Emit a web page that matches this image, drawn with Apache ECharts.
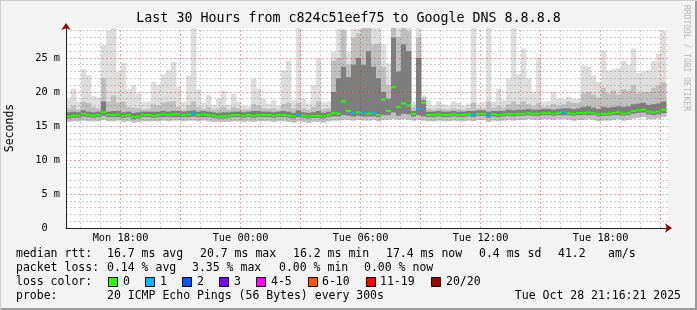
<!DOCTYPE html>
<html><head><meta charset="utf-8">
<script src="https://cdn.jsdelivr.net/npm/echarts@6/dist/echarts.min.js"></script>
<style>html,body{margin:0;padding:0;background:#f3f3f3}#c{width:697px;height:310px}</style>
</head><body><div id="c"></div>
<script>
// ---- time frame (hours since Mon 00:00) ----
const START_H = 15 + 16/60 + 21/3600;   // Mon 15:16:21
const SPAN_H = 30;
const STEP_H = 0.25;                     // one bin = 15 minutes

// ---- smoke data (milliseconds), one value per 15-min bin ----
const hi = [19.0,20.5,18.6,23.4,22.5,19.4,19.2,26.9,29.0,29.4,23.0,24.3,20.4,21.0,19.8,18.5,18.6,21.5,21.0,22.6,
 23.2,24.4,20.8,18.5,22.4,29.4,20.4,18.4,19.5,18.1,19.0,20.2,18.1,19.7,18.6,18.0,17.9,21.9,20.5,19.0,
 18.2,18.8,18.0,23.2,24.6,18.8,29.4,19.0,18.3,21.0,24.9,18.5,18.6,25.9,29.3,29.3,25.9,29.3,29.3,29.4,
 29.4,29.4,29.4,27.0,24.2,29.4,29.4,29.4,29.4,18.5,29.4,19.5,18.8,18.0,18.6,18.2,18.0,18.6,18.4,18.0,
 18.3,29.4,18.3,18.5,29.4,18.6,20.5,18.8,22.0,29.4,22.6,26.4,22.0,20.0,25.0,18.5,18.7,20.0,19.0,19.0,
 19.3,19.0,19.0,23.9,23.7,22.4,21.5,26.1,23.2,23.4,23.5,24.6,24.0,26.4,22.8,23.0,23.2,24.6,25.6,29.0];
const p90 = [17.6,18.0,17.4,18.6,18.4,17.8,17.6,22.0,18.6,19.5,18.4,18.6,17.8,17.7,17.6,17.4,17.5,18.2,18.0,18.4,
 18.6,18.6,17.8,17.4,18.0,18.6,17.8,17.5,17.8,17.4,17.6,17.8,17.4,17.8,17.6,17.4,17.4,18.2,18.0,17.6,
 17.5,17.6,17.4,18.2,18.4,17.6,18.4,17.6,17.4,17.8,18.6,17.5,17.6,24.6,25.0,29.0,24.0,28.0,28.6,29.4,
 29.4,27.0,27.1,23.7,21.0,29.4,28.1,29.4,29.0,17.8,28.0,19.2,17.6,17.4,17.6,17.5,17.4,17.6,17.5,17.4,
 17.6,18.4,17.6,17.6,18.6,17.7,18.0,17.7,18.2,18.6,18.2,18.6,18.2,17.9,18.4,17.8,17.9,18.2,18.0,18.2,
 18.6,18.4,18.4,19.8,20.0,19.6,19.2,20.6,19.8,20.2,19.6,20.4,20.2,21.0,19.8,20.0,20.0,20.6,21.0,21.4];
const q3 = [17.0,17.1,17.0,17.3,17.1,17.0,17.1,18.6,17.1,17.2,17.2,17.0,17.1,16.9,17.0,17.1,17.1,17.1,17.1,17.2,
 17.1,17.2,17.2,17.1,17.2,17.3,17.1,17.2,17.1,17.0,16.9,17.0,17.0,17.1,17.1,17.0,17.1,17.2,17.2,17.1,
 17.1,17.0,17.1,17.2,17.1,16.9,17.3,17.0,16.9,17.0,17.2,16.9,17.1,20.0,22.0,23.7,22.2,24.0,25.0,24.0,
 26.0,23.7,22.0,20.0,19.0,28.0,23.0,27.0,26.0,17.2,25.0,18.8,17.1,17.1,17.2,17.1,17.1,17.2,17.1,17.1,
 17.2,17.2,17.3,17.3,17.1,17.2,17.2,17.2,17.4,17.3,17.4,17.4,17.5,17.4,17.4,17.5,17.5,17.4,17.5,17.6,
 17.6,17.5,17.6,17.8,17.9,17.7,17.5,17.8,17.7,17.8,17.9,17.8,17.9,18.2,18.3,18.4,18.1,18.2,18.3,18.6];
const median = [16.4,16.5,16.5,16.8,16.6,16.5,16.6,17.0,16.6,16.6,16.7,16.5,16.6,16.3,16.4,16.6,16.6,16.5,16.6,16.7,
 16.6,16.7,16.7,16.6,16.7,16.8,16.6,16.7,16.6,16.5,16.4,16.4,16.5,16.6,16.6,16.5,16.6,16.5,16.6,16.6,
 16.6,16.5,16.6,16.6,16.5,16.4,16.6,16.5,16.4,16.5,16.5,16.4,16.6,16.9,16.8,18.6,17.2,16.9,17.0,16.9,
 16.8,16.9,16.6,18.9,17.2,20.7,17.8,18.3,18.0,16.8,17.5,18.4,16.6,16.6,16.7,16.6,16.6,16.7,16.6,16.6,
 16.7,16.6,16.8,16.8,16.5,16.7,16.6,16.7,16.8,16.7,16.8,16.8,16.9,16.8,16.8,16.9,16.9,16.8,16.9,17.0,
 16.9,16.8,16.9,16.9,17.0,16.9,16.7,16.8,16.8,16.9,17.0,16.8,16.9,17.2,17.3,17.4,17.1,17.0,17.1,17.4];
const q1 = [16.1,16.2,16.2,16.4,16.3,16.2,16.3,16.5,16.3,16.3,16.3,16.2,16.3,16.0,16.1,16.3,16.3,16.2,16.3,16.3,
 16.3,16.3,16.3,16.3,16.3,16.4,16.3,16.3,16.3,16.2,16.1,16.1,16.2,16.3,16.3,16.2,16.3,16.2,16.3,16.3,
 16.3,16.2,16.3,16.3,16.2,16.1,16.3,16.2,16.1,16.2,16.2,16.1,16.3,16.4,16.4,16.6,16.5,16.4,16.5,16.4,
 16.4,16.4,16.3,16.6,16.6,17.0,16.5,16.8,16.7,16.4,16.6,16.4,16.3,16.3,16.4,16.3,16.3,16.4,16.3,16.3,
 16.4,16.3,16.5,16.5,16.2,16.4,16.3,16.4,16.5,16.4,16.5,16.5,16.6,16.5,16.5,16.6,16.6,16.5,16.6,16.6,
 16.6,16.5,16.6,16.6,16.6,16.6,16.4,16.5,16.5,16.6,16.6,16.5,16.6,16.8,16.9,17.0,16.7,16.6,16.7,16.9];
const lo = [15.6,15.7,15.7,15.8,15.7,15.7,15.7,15.9,15.7,15.7,15.8,15.6,15.7,15.5,15.6,15.7,15.7,15.7,15.7,15.8,
 15.7,15.8,15.8,15.7,15.8,15.8,15.7,15.8,15.7,15.6,15.6,15.6,15.6,15.7,15.7,15.6,15.7,15.6,15.7,15.7,
 15.7,15.6,15.7,15.7,15.6,15.5,15.7,15.6,15.5,15.6,15.6,15.5,15.7,15.8,15.8,15.9,15.9,15.8,15.9,15.8,
 15.8,15.9,15.7,15.9,15.9,16.0,15.9,16.0,15.9,15.8,15.9,15.8,15.7,15.7,15.8,15.7,15.7,15.8,15.7,15.7,
 15.8,15.7,15.9,15.9,15.6,15.8,15.7,15.8,15.9,15.8,15.9,15.9,16.0,15.9,15.9,16.0,16.0,15.9,16.0,16.0,
 15.9,15.8,15.9,15.9,16.0,15.9,15.7,15.8,15.8,15.9,16.0,15.8,15.9,16.1,16.2,16.3,16.0,16.0,16.1,16.3];
// lost pings per bin (index into loss colours)
const loss = [0,0,0,0,0,0,0,0,0,0,0,0,0,0,0,0,0,0,0,0,
 0,0,0,0,0,1,0,0,0,0,0,0,0,0,0,0,0,0,0,0,
 0,0,0,0,0,0,1,0,0,0,0,0,0,0,0,0,0,1,0,1,
 0,1,0,0,0,0,0,0,0,0,1,0,0,0,0,0,0,0,0,0,
 0,1,0,0,1,0,0,0,0,0,0,0,0,0,0,0,0,0,0,1,
 0,0,0,0,0,0,0,0,0,0,0,0,0,0,0,0,0,0,0,0];

// ---- axis ticks / labels ----
const xLabelHours = [18, 24, 30, 36, 42];
const dayNames = ['Mon', 'Tue'];
const yLabelStep = 5;

// ---- texts ----
const titleText = 'Last 30 Hours from c824c51eef75 to Google DNS 8.8.8.8';
const yName = 'Seconds';
const sideText = 'RRDTOOL / TOBI OETIKER';
const rttRow = ['median rtt:', '16.7 ms avg', '20.7 ms max', '16.2 ms min', '17.4 ms now', '0.4 ms sd', '41.2', 'am/s'];
const lossRow = ['packet loss:', '0.14 % avg', '3.35 % max', '0.00 % min', '0.00 % now'];
const lossColorLabel = 'loss color:';
const lossLabels = ['0', '1', '2', '3', '4-5', '6-10', '11-19', '20/20'];
const lossColors = ['#26ff00', '#00b8ff', '#0059ff', '#7e00ff', '#ff00ff', '#ff5500', '#ff0000', '#a10000'];
const probeRow = ['probe:', '20 ICMP Echo Pings (56 Bytes) every 300s'];
const stampText = 'Tue Oct 28 21:16:21 2025';

// ---- layout (positions only) ----
const rttX = [16, 107, 200, 293, 386, 479, 558, 608];
const lossX = [16, 107, 192, 279, 364];
const boxX = [108, 145, 182, 219, 256, 308, 366, 431];
const boxLabelX = [123, 160, 197, 234, 271, 322, 380, 446];
const rowY = [254, 268, 282, 296];
const MONO = '"DejaVu Sans Mono", monospace';

const bins = median.map((m, i) => [
  START_H + i * STEP_H, START_H + (i + 1) * STEP_H,
  lo[i], q1[i], m, q3[i], p90[i], hi[i], loss[i]
]);

const RED = 'rgba(235,40,40,0.45)';
const GRAY = 'rgba(120,120,120,0.38)';
const ARROW = '#8b0000';
const yMax = 29.4;
const yColors = [];
for (let v = 0; v <= 30; v++) yColors.push(v === 30 ? 'rgba(0,0,0,0)' : (v % yLabelStep === 0 ? RED : GRAY));

const vGrid = [];
for (let h = Math.ceil(START_H); h <= START_H + SPAN_H; h++) {
  vGrid.push({ xAxis: h, lineStyle: { color: h % 3 === 0 ? RED : GRAY, type: [2, 2], width: 1 } });
}

function txt(text, x, y, opts) {
  return Object.assign({ type: 'text', x: x, y: y, silent: true,
    style: Object.assign({ text: text, font: '11.5px ' + MONO, fill: '#000', verticalAlign: 'middle', align: 'left' }, opts || {}) });
}

const graphics = [];
graphics.push({ type: 'rect', shape: { x: 0, y: 0, width: 697, height: 310 }, style: { fill: 'none', stroke: '#cfcfcf', lineWidth: 2 }, silent: true, z: -1 });
graphics.push({ type: 'polyline', shape: { points: [[1, 309], [696, 309], [696, 1]] }, style: { stroke: '#9a9a9a', lineWidth: 2, fill: 'none' }, silent: true });
graphics.push(txt(titleText, 348.5, 19, { font: '13.3px ' + MONO, align: 'center' }));
graphics.push({ type: 'text', x: 686, y: 5, rotation: -Math.PI / 2, silent: true,
  style: { text: sideText, font: '8px ' + MONO, fill: '#b5b5b5', align: 'left', verticalAlign: 'middle' } });
rttRow.forEach((t, i) => graphics.push(txt(t, rttX[i], rowY[0])));
lossRow.forEach((t, i) => graphics.push(txt(t, lossX[i], rowY[1])));
graphics.push(txt(lossColorLabel, 16, rowY[2]));
lossLabels.forEach((t, i) => {
  graphics.push({ type: 'rect', shape: { x: boxX[i] + 0.5, y: rowY[2] - 4.5, width: 9, height: 9 },
    style: { fill: lossColors[i], stroke: '#000', lineWidth: 1 }, silent: true });
  graphics.push(txt(t, boxLabelX[i], rowY[2]));
});
graphics.push(txt(probeRow[0], 16, rowY[3]));
graphics.push(txt(probeRow[1], 107, rowY[3]));
graphics.push(txt(stampText, 681, rowY[3], { align: 'right' }));

const chart = echarts.init(document.getElementById('c'), null, { renderer: 'canvas' });
chart.setOption({
  animation: false,
  backgroundColor: '#f3f3f3',
  grid: { left: 66, top: 28, right: 29, bottom: 82, show: true, backgroundColor: '#ffffff', borderWidth: 0,
    containLabel: false, outerBoundsMode: 'none' },
  xAxis: [{
    type: 'value', min: START_H, max: START_H + SPAN_H + 0.1, z: 6,
    axisLine: { show: true, onZero: false, lineStyle: { color: '#202020', width: 1 } },
    axisTick: { show: false }, splitLine: { show: false },
    axisLabel: {
      customValues: xLabelHours,
      formatter: v => dayNames[Math.floor(v / 24)] + ' ' + String(Math.round(v % 24)).padStart(2, '0') + ':00',
      fontFamily: MONO, fontSize: 10.3, color: '#000', margin: 5
    }
  }, {
    type: 'value', min: START_H, max: START_H + SPAN_H + 0.1, position: 'bottom', z: 7,
    axisLine: { show: true, onZero: false, symbol: ['none', 'arrow'], symbolSize: [7, 7], symbolOffset: [0, 4],
      lineStyle: { color: ARROW, width: 0 } },
    axisTick: { show: false }, axisLabel: { show: false }, splitLine: { show: false }
  }],
  yAxis: [{
    type: 'value', min: 0, max: yMax, interval: 1, z: 6,
    axisLine: { show: true, onZero: false, lineStyle: { color: '#202020', width: 1 } },
    axisTick: { show: false },
    splitLine: { show: true, lineStyle: { color: yColors, type: [2, 2], width: 1 } },
    axisLabel: {
      formatter: v => (v % yLabelStep === 0 ? (v === 0 ? '0  ' : v + ' m') : ''),
      fontFamily: MONO, fontSize: 10.3, color: '#000', margin: 6
    },
    name: yName, nameLocation: 'middle', nameGap: 50, nameRotate: 90,
    nameTextStyle: { fontFamily: MONO, fontSize: 11.5, color: '#000' }
  }, {
    type: 'value', min: 0, max: yMax, position: 'left', z: 7,
    axisLine: { show: true, onZero: false, symbol: ['none', 'arrow'], symbolSize: [7, 7], symbolOffset: [0, 5],
      lineStyle: { color: ARROW, width: 0 } },
    axisTick: { show: false }, axisLabel: { show: false }, splitLine: { show: false }
  }],
  graphic: graphics,
  series: [{
    type: 'custom',
    data: bins,
    encode: { x: [0, 1], y: [2, 3, 4, 5, 6, 7] },
    clip: true,
    renderItem: function (params, api) {
      const t0 = api.value(0), t1 = api.value(1);
      const a = api.coord([t0, 0]), b = api.coord([t1, 0]);
      const x0 = a[0], w = b[0] - a[0] + 0.4;
      const rect = (ylo, yhi, color) => {
        const p1 = api.coord([t0, yhi]), p2 = api.coord([t0, ylo]);
        return { type: 'rect', shape: { x: x0, y: p1[1], width: w, height: p2[1] - p1[1] }, style: { fill: color } };
      };
      const pm = api.coord([t0, api.value(4)]);
      return { type: 'group', children: [
        rect(api.value(2), api.value(7), '#dedede'),
        rect(api.value(2), api.value(6), '#bfbfbf'),
        rect(api.value(3), api.value(5), '#7e7e7e'),
        { type: 'rect', shape: { x: x0, y: pm[1] - 1, width: w, height: 2 }, style: { fill: lossColors[api.value(8)] } }
      ] };
    },
    markLine: { silent: true, symbol: ['none', 'none'], label: { show: false }, z: 5, data: vGrid }
  }]
});
</script></body></html>
